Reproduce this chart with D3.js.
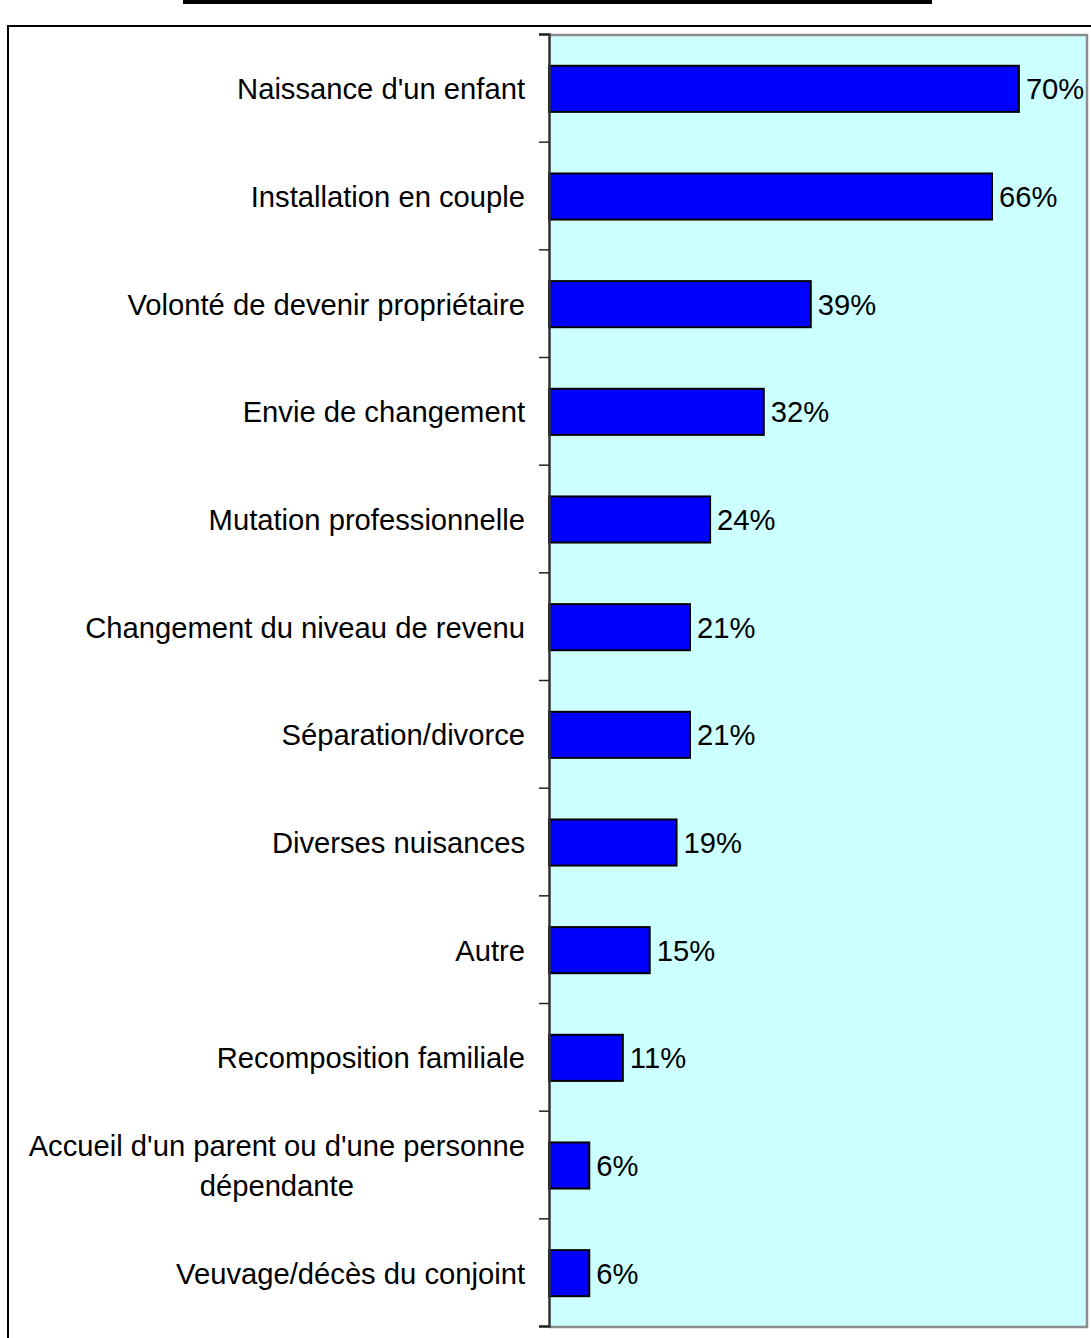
<!DOCTYPE html>
<html>
<head>
<meta charset="utf-8">
<script src="https://cdn.jsdelivr.net/npm/d3@7"></script>
<style>
  html, body { margin: 0; padding: 0; background: #fff; }
  svg { display: block; }
  text { font-family: "Liberation Sans", Arial, sans-serif; fill: #000; }
</style>
</head>
<body>
<script>
// Raisons de déménagement (% des répondants)
const categories = [
  "Naissance d'un enfant",
  "Installation en couple",
  "Volonté de devenir propriétaire",
  "Envie de changement",
  "Mutation professionnelle",
  "Changement du niveau de revenu",
  "Séparation/divorce",
  "Diverses nuisances",
  "Autre",
  "Recomposition familiale",
  "Accueil d'un parent ou d'une personne dépendante",
  "Veuvage/décès du conjoint"
];
const values = [70, 66, 39, 32, 24, 21, 21, 19, 15, 11, 6, 6];
const xDomain = [0, 80];

const W = 1091, H = 1338;
const plot = { left: 549, top: 34, right: 1086, bottom: 1326 };
const fontSize = 29.2;

const svg = d3.select("body").append("svg")
  .attr("width", W).attr("height", H);

// heavy rule at the very top
svg.append("rect")
  .attr("x", 183).attr("y", 0).attr("width", 749).attr("height", 4)
  .attr("fill", "#000");

// outer chart frame (runs past the right and bottom edges)
svg.append("rect")
  .attr("x", 8).attr("y", 26).attr("width", 1100).attr("height", 1330)
  .attr("fill", "none").attr("stroke", "#000").attr("stroke-width", 2);

const x = d3.scaleLinear().domain(xDomain).range([plot.left, plot.right]);
const y = d3.scaleBand().domain(categories)
  .range([plot.top, plot.bottom])
  .paddingInner(0.572).paddingOuter(0.286);
const edges = d3.scaleLinear().domain([0, categories.length])
  .range([plot.top, plot.bottom]);

// plot background
svg.append("rect")
  .attr("x", plot.left).attr("y", plot.top)
  .attr("width", plot.right - plot.left).attr("height", plot.bottom - plot.top)
  .attr("fill", "#CCFFFF");

// grey frame on top, right, bottom
svg.append("path")
  .attr("d", `M${plot.left},${plot.top + 1}H${plot.right + 1}V${plot.bottom + 1}H${plot.left}`)
  .attr("fill", "none").attr("stroke", "#8c8c8c").attr("stroke-width", 2.5);

// bars
svg.append("g").selectAll("rect")
  .data(values)
  .join("rect")
  .attr("x", x(0))
  .attr("y", (d, i) => y(categories[i]) + 1)
  .attr("width", d => x(d) - x(0))
  .attr("height", y.bandwidth())
  .attr("fill", "#0000FF")
  .attr("stroke", "#000").attr("stroke-width", 2);

// value labels
svg.append("g").selectAll("text")
  .data(values)
  .join("text")
  .attr("x", d => x(d) + 7)
  .attr("y", (d, i) => y(categories[i]) + 1 + y.bandwidth() / 2)
  .attr("dy", "0.36em")
  .style("font-size", fontSize + "px")
  .text(d => d + "%");

// category axis with ticks on the band boundaries
const axis = svg.append("g")
  .attr("transform", `translate(${plot.left},0)`)
  .call(d3.axisLeft(edges).tickValues(d3.range(categories.length + 1))
    .tickSize(10).tickFormat(""));
axis.select(".domain").attr("stroke", "#333").attr("stroke-width", 2.5);
axis.selectAll(".tick line").attr("stroke", "#222").attr("stroke-width", 1.5);

// category labels, wrapped and centered as a block, right-aligned to the axis
const labelRight = 525, maxWidth = 510, lineH = 40;
const labels = svg.append("g");
categories.forEach((c, i) => {
  const words = c.split(" ");
  const lines = [];
  let cur = "";
  const probe = labels.append("text").style("font-size", fontSize + "px");
  words.forEach(w => {
    const test = cur ? cur + " " + w : w;
    probe.text(test);
    if (probe.node().getComputedTextLength() > maxWidth && cur) {
      lines.push(cur); cur = w;
    } else cur = test;
  });
  lines.push(cur);
  const widths = lines.map(l => { probe.text(l); return probe.node().getComputedTextLength(); });
  probe.remove();
  const blockW = d3.max(widths);
  const cx = labelRight - blockW / 2;
  const cy = edges(i + 0.5) + 1;
  const t = labels.append("text")
    .attr("text-anchor", "middle")
    .style("font-size", fontSize + "px");
  lines.forEach((l, k) => {
    t.append("tspan")
      .attr("x", cx)
      .attr("y", cy + (k - (lines.length - 1) / 2) * lineH)
      .attr("dy", "0.36em")
      .text(l);
  });
});
</script>
</body>
</html>
